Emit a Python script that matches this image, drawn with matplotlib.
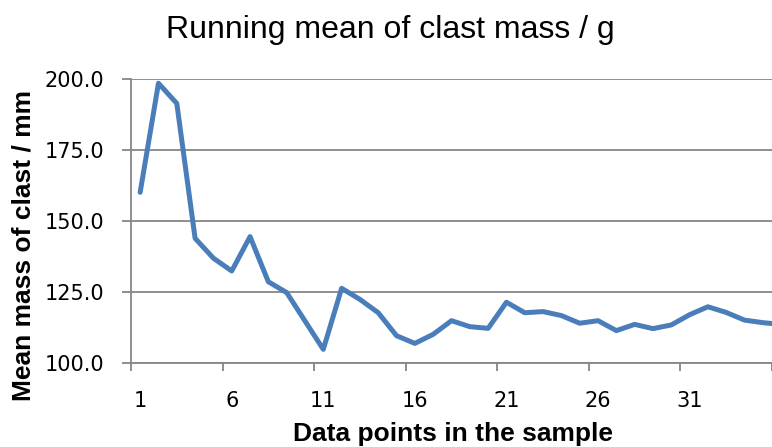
import matplotlib
matplotlib.use("Agg")
import matplotlib.pyplot as plt
import numpy as np

# Data
points = list(range(1, 37))
running_mean = [160.1, 198.5, 191.4, 143.9, 136.9, 132.4, 144.5, 128.6, 124.8, 114.8,
                104.8, 126.3, 122.4, 117.7, 109.6, 106.9, 110.1, 114.9, 112.8, 112.2,
                121.4, 117.7, 118.1, 116.7, 114.0, 114.9, 111.4, 113.6, 112.1, 113.4,
                117.0, 119.8, 117.8, 115.1, 114.2, 113.6]
x_tick_labels = ["1", "6", "11", "16", "21", "26", "31"]
y_ticks = [100.0, 125.0, 150.0, 175.0, 200.0]

title = "Running mean of clast mass / g"
xlabel = "Data points in the sample"
ylabel = "Mean mass of clast / mm"

W, H = 772, 447
fig = plt.figure(figsize=(W / 100, H / 100), dpi=100)
ax = fig.add_axes([131 / W, 1 - 363 / H, (W - 131) / W, (363 - 79) / H])

grid_col = "#868686"
ax.plot(points, running_mean, color="#4A7EBB", lw=3.6, solid_joinstyle="round",
        solid_capstyle="round", zorder=3)

ax.set_xlim(0.5, 35.2)
ax.set_ylim(100, 200)

# y axis
ax.set_yticks(y_ticks)
ax.set_yticklabels([f"{v:.1f}" for v in y_ticks])
ax.yaxis.grid(True, color=grid_col, lw=1.3)
ax.set_axisbelow(True)

# x axis: tick marks at category boundaries, labels at category centers
ax.set_xticks([0.5 + 5 * i for i in range(8)])
ax.set_xticklabels([])
ax.set_xticks([int(s) for s in x_tick_labels], minor=True)
ax.set_xticklabels(x_tick_labels, minor=True)

ax.tick_params(axis="x", which="major", direction="out", length=6, width=1.3,
               color=grid_col)
ax.tick_params(axis="x", which="minor", length=0, pad=20, labelsize=15)
ax.tick_params(axis="y", direction="out", length=6.5, width=1.3, color=grid_col,
               pad=13, labelsize=15)

for lab in ax.get_xticklabels(minor=True) + ax.get_yticklabels():
    lab.set_fontfamily("DejaVu Sans")

for s in ["top", "right"]:
    ax.spines[s].set_visible(False)
for s in ["left", "bottom"]:
    ax.spines[s].set_color(grid_col)
    ax.spines[s].set_linewidth(1.3)

fig.text(390 / W, 1 - 38 / H, title, ha="center", va="baseline",
         fontsize=23, family="Liberation Sans")
fig.text(453 / W, 1 - 441 / H, xlabel, ha="center", va="baseline",
         fontsize=19, family="Liberation Sans", fontweight="bold")
fig.text(24 / W, 1 - 245.5 / H, ylabel, ha="center", va="center", rotation=90,
         fontsize=19, family="Liberation Sans", fontweight="bold")

fig.savefig("out.png", dpi=100)
